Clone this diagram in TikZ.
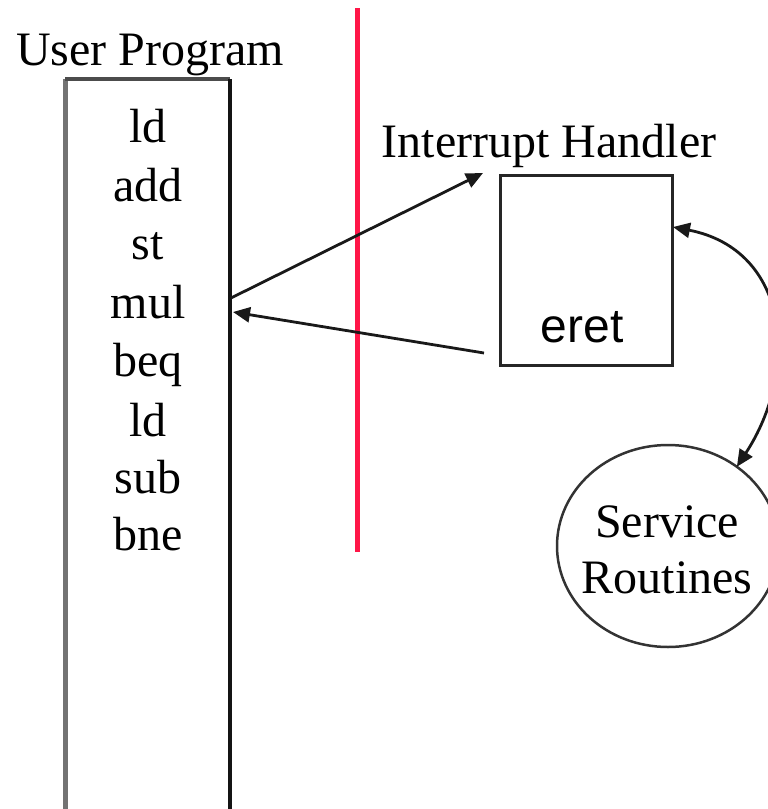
\documentclass[tikz,border=0pt]{standalone}
\usepackage{fontspec}
\setmainfont{Liberation Serif}
\newfontfamily\sansface{Liberation Sans}
\usetikzlibrary{arrows.meta,shapes.geometric,calc}
\definecolor{dividerred}{RGB}{255,22,72}
\begin{document}
\begin{tikzpicture}[x=1pt,y=-1pt,
  every node/.style={inner sep=0pt, outer sep=0pt},
  lbl/.style={font=\fontsize{48}{58}\selectfont, anchor=base},
  link/.style={line width=2.8pt, draw=black!90, -{Triangle[length=17pt,width=15pt]}}]
\useasboundingbox (0,0) rectangle (768,809);
\clip (0,0) rectangle (768,809);

% user program column
\node[minimum width=165, minimum height=732, anchor=north west] (up) at (65,79) {};
\draw[line width=5pt, color=black!55] (up.north west) -- (up.south west);
\draw[line width=4pt, color=black!70] (up.north west) -- (up.north east);
\draw[line width=3.5pt, color=black!92] (up.north east) -- (up.south east);
\draw[line width=4pt, color=black!45] (up.south west) -- (up.south east);
\node[lbl] (title) at (150,65) {User Program};

\node[lbl] (i1) at (148,142) {ld};
\node[lbl] (i2) at (148,201) {add};
\node[lbl] (i3) at (148,259) {st};
\node[lbl] (i4) at (148,318) {mul};
\node[lbl] (i5) at (148,376) {beq};
\node[lbl] (i6) at (148,436) {ld};
\node[lbl] (i7) at (148,493) {sub};
\node[lbl] (i8) at (148,550) {bne};

% user / kernel boundary
\draw[dividerred, line width=5pt] (357,8) -- (357,552);

% interrupt handler
\node[lbl] (hlabel) at (549,157) {Interrupt Handler};
\node[draw=black!85, line width=3pt, minimum width=172, minimum height=190, anchor=north west] (hb) at (500,175) {};
\node[font=\sansface\fontsize{48}{58}\selectfont, anchor=base] (er) at (582,342) {eret};

% service routines
\node[draw=black!80, line width=2.5pt, ellipse, minimum width=222, minimum height=202] (sr) at (668,546) {};
\node[lbl] (s1) at (667,537) {Service};
\node[lbl] (s2) at (667,593) {Routines};

% control transfers
\coordinate (hin) at (483,173);
\coordinate (hout) at (484,353);
\draw[link] ($(up.north east)+(1,219)$) -- (hin);
\draw[link] (hout) -- ($(up.north east)+(3,233)$);
\draw[line width=2.8pt, draw=black!90, {Triangle[length=17pt,width=15pt]}-{Triangle[length=17pt,width=15pt]}]
  (sr.49) .. controls (800,370) and (790,250) .. ($(hb.north east)+(1,52)$);
\end{tikzpicture}
\end{document}
